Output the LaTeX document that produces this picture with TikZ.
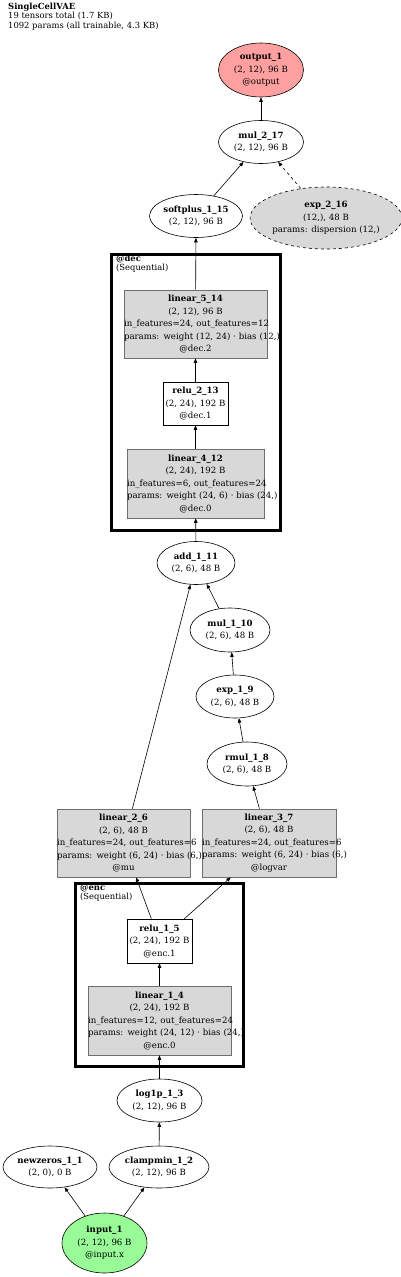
\documentclass[tikz,border=0pt]{standalone}
\usepackage{fontspec}
\setmainfont{DejaVu Serif}
\usetikzlibrary{shapes.geometric,arrows.meta}
\definecolor{out_red}{RGB}{255,160,160}
\definecolor{in_green}{RGB}{152,251,152}
\definecolor{module_gray}{RGB}{216,216,216}
\definecolor{edge_gray}{RGB}{110,110,110}
\newcommand{\graphfont}{\fontsize{8.6}{12.5}\selectfont}
\newcommand{\clusterfont}{\fontsize{8.4}{9.3}\selectfont}

\begin{document}
\begin{tikzpicture}[x=1pt, y=-1pt,
    op/.style={ellipse, draw, line width=0.6pt, fill=white, inner sep=0pt, align=center, font=\graphfont},
    layer/.style={rectangle, draw=edge_gray, line width=0.6pt, fill=module_gray, inner sep=0pt, align=center, font=\graphfont},
    unit/.style={rectangle, draw, line width=0.6pt, fill=white, inner sep=0pt, align=center, font=\graphfont},
    cluster/.style={draw, line width=3pt},
    clabel/.style={anchor=north west, align=left, inner sep=0pt, font=\clusterfont},
    flow/.style={-{Triangle[length=4.5pt,width=3.5pt]}, line width=0.6pt},
]
\useasboundingbox (0,0) rectangle (400,1277);

% Title
\node[clabel] (title) at (8,3) {\textbf{SingleCellVAE}\\19 tensors total (1.7 KB)\\1092 params (all trainable, 4.3 KB)};

% Output side
\node[op, fill=out_red, minimum width=85, minimum height=54] (output) at (261,70) {\textbf{output\_1}\\(2, 12), 96 B\\@output};
\node[op, minimum width=85, minimum height=43] (mulout) at (261,142) {\textbf{mul\_2\_17}\\(2, 12), 96 B};
\node[op, minimum width=93, minimum height=43] (softplus) at (196,216) {\textbf{softplus\_1\_15}\\(2, 12), 96 B};
\node[op, fill=module_gray, dashed, minimum width=145, minimum height=62] (dispersion) at (326,218) {\textbf{exp\_2\_16}\\(12,), 48 B\\params: dispersion (12,)};

% Decoder
\draw[cluster] (111.5,254.5) rectangle (280.5,530.5);
\node[clabel] (declabel) at (116,255) {\textbf{@dec}\\(Sequential)};
\node[layer, text width=143, minimum height=68] (lin5) at (195.5,324) {\textbf{linear\_5\_14}\\(2, 12), 96 B\\\mbox{in\_features=24, out\_features=12}\\\mbox{params: weight (12, 24) · bias (12,)}\\@dec.2};
\node[unit, text width=65, minimum height=43] (relu2) at (195.5,403.5) {\textbf{relu\_2\_13}\\(2, 24), 192 B\\@dec.1};
\node[layer, text width=137, minimum height=69] (lin4) at (195.5,483.5) {\textbf{linear\_4\_12}\\(2, 24), 192 B\\\mbox{in\_features=6, out\_features=24}\\\mbox{params: weight (24, 6) · bias (24,)}\\@dec.0};

% Reparameterisation
\node[op, minimum width=78, minimum height=43] (addz) at (196,563) {\textbf{add\_1\_11}\\(2, 6), 48 B};
\node[op, minimum width=80, minimum height=44] (mulstd) at (230,630) {\textbf{mul\_1\_10}\\(2, 6), 48 B};
\node[op, minimum width=78, minimum height=43] (expstd) at (235,696.5) {\textbf{exp\_1\_9}\\(2, 6), 48 B};
\node[op, minimum width=80, minimum height=44] (rmul) at (247,764) {\textbf{rmul\_1\_8}\\(2, 6), 48 B};

% Heads
\node[layer, text width=133, minimum height=68] (linmu) at (123.5,843) {\textbf{linear\_2\_6}\\(2, 6), 48 B\\\mbox{in\_features=24, out\_features=6}\\\mbox{params: weight (6, 24) · bias (6,)}\\@mu};
\node[layer, text width=134, minimum height=68] (linlogvar) at (269,843) {\textbf{linear\_3\_7}\\(2, 6), 48 B\\\mbox{in\_features=24, out\_features=6}\\\mbox{params: weight (6, 24) · bias (6,)}\\@logvar};

% Encoder
\draw[cluster] (75.5,883.5) rectangle (243.5,1066.5);
\node[clabel] (enclabel) at (80,884) {\textbf{@enc}\\(Sequential)};
\node[unit, text width=65, minimum height=44] (relu1) at (159.5,941) {\textbf{relu\_1\_5}\\(2, 24), 192 B\\@enc.1};
\node[layer, text width=143, minimum height=69] (lin1) at (159.5,1020.5) {\textbf{linear\_1\_4}\\(2, 24), 192 B\\\mbox{in\_features=12, out\_features=24}\\\mbox{params: weight (24, 12) · bias (24,)}\\@enc.0};

% Input side
\node[op, minimum width=85, minimum height=43] (logp) at (159.5,1100.5) {\textbf{log1p\_1\_3}\\(2, 12), 96 B};
\node[op, minimum width=94, minimum height=42] (newzeros) at (50,1167) {\textbf{newzeros\_1\_1}\\(2, 0), 0 B};
\node[op, minimum width=100, minimum height=42] (clampmin) at (159,1167) {\textbf{clampmin\_1\_2}\\(2, 12), 96 B};
\node[op, fill=in_green, minimum width=85, minimum height=60] (input) at (104.5,1243) {\textbf{input\_1}\\(2, 12), 96 B\\@input.x};

% Edges
\draw[flow] (input) -- (newzeros);
\draw[flow] (input) -- (clampmin);
\draw[flow] (clampmin) -- (logp);
\draw[flow] (logp) -- (lin1);
\draw[flow] (lin1) -- (relu1);
\draw[flow] (relu1) -- (linmu);
\draw[flow] (relu1) -- (linlogvar);
\draw[flow] (linlogvar) -- (rmul);
\draw[flow] (rmul) -- (expstd);
\draw[flow] (expstd) -- (mulstd);
\draw[flow] (mulstd) -- (addz);
\draw[flow] (linmu) -- (addz);
\draw[flow] (addz) -- (lin4);
\draw[flow] (lin4) -- (relu2);
\draw[flow] (relu2) -- (lin5);
\draw[flow] (lin5) -- (softplus);
\draw[flow] (softplus) -- (mulout);
\draw[flow, dashed] (dispersion) -- (mulout);
\draw[flow] (mulout) -- (output);

\end{tikzpicture}
\end{document}
